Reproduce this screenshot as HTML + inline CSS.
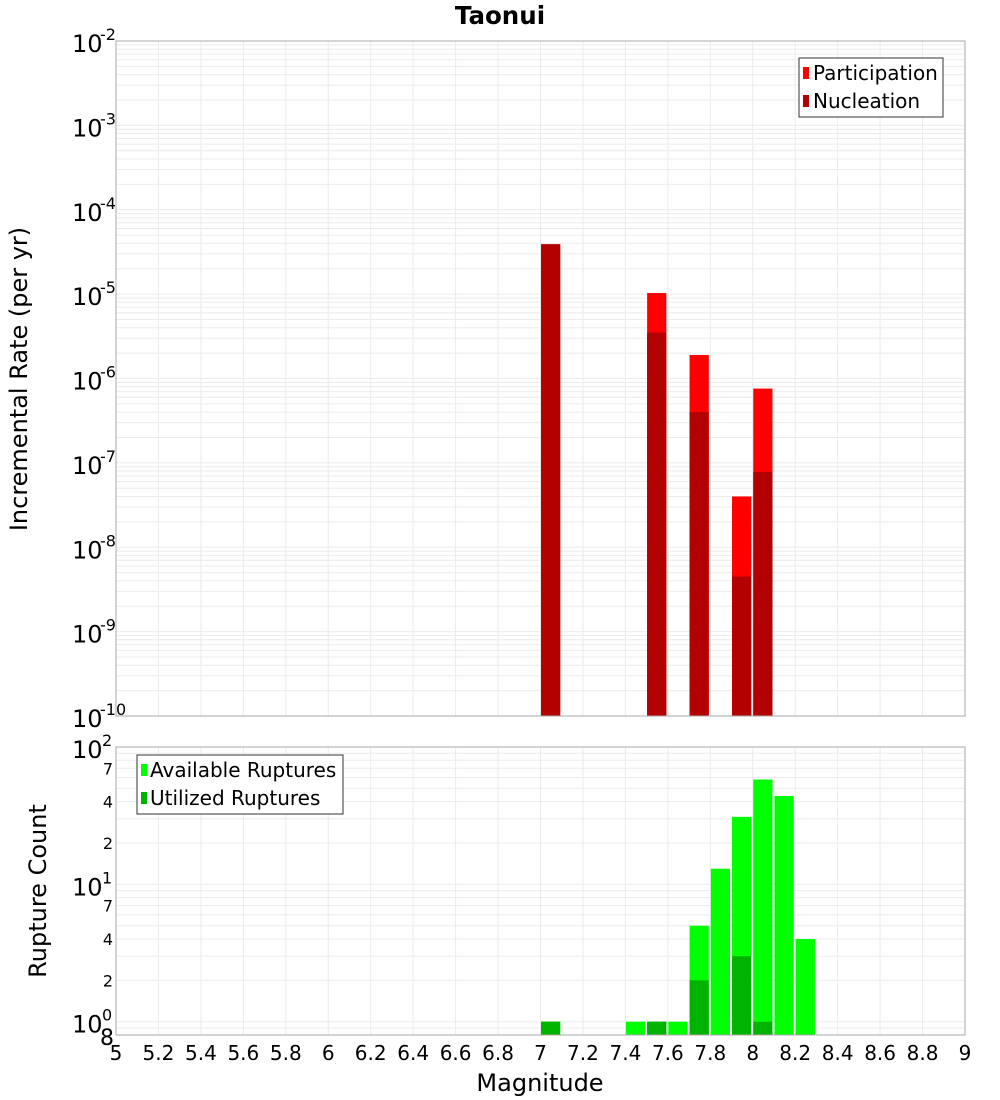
<!DOCTYPE html>
<html><head><meta charset="utf-8"><style>body{margin:0;background:#fff}svg{display:block;font-family:"DejaVu Sans","Liberation Sans",sans-serif}</style></head>
<body>
<svg id="c" width="1000" height="1100" xmlns="http://www.w3.org/2000/svg"></svg>
<script>
const magBins=[7.0,7.5,7.7,7.9,8.0];
const participation=[3.9e-5,1.03e-5,1.9e-6,4.0e-8,7.6e-7];
const nucleation=[3.9e-5,3.5e-6,4.0e-7,4.5e-9,7.8e-8];
const countBins=[7.0,7.4,7.5,7.6,7.7,7.8,7.9,8.0,8.1,8.2];
const available=[1,1,1,1,5,13,31,58,44,4];
const utilized=[1,0,1,0,2,0,3,1,0,0];
const xTicks=[5,5.2,5.4,5.6,5.8,6,6.2,6.4,6.6,6.8,7,7.2,7.4,7.6,7.8,8,8.2,8.4,8.6,8.8,9];
const topExps=[-2,-3,-4,-5,-6,-7,-8,-9,-10];

const S=document.getElementById('c');const NS='http://www.w3.org/2000/svg';
function el(t,a,txt){const e=document.createElementNS(NS,t);for(const k in a)e.setAttribute(k,a[k]);if(txt!==undefined)e.textContent=txt;S.appendChild(e);return e;}
const L=116,R=965;
const x=m=>L+(m-5)/4*(R-L);
const T1=41,B1=716;const y1=v=>T1+(-2-Math.log10(v))/8*(B1-T1);
const T2=747,B2=1035;const lmin=Math.log10(0.8),lmax=2;const y2=v=>T2+(lmax-Math.log10(v))/(lmax-lmin)*(B2-T2);

let e=el('text',{x:500,y:24,'text-anchor':'middle','font-size':24.5,'font-weight':'bold'},'Taonui');


el('rect',{x:L,y:T1,width:R-L,height:B1-T1,fill:'#fff',stroke:'none'});
el('rect',{x:L,y:T2,width:R-L,height:B2-T2,fill:'#fff',stroke:'none'});
xTicks.forEach(t=>{el('line',{x1:x(t),x2:x(t),y1:T1,y2:B1,stroke:'#ebebeb'});el('line',{x1:x(t),x2:x(t),y1:T2,y2:B2,stroke:'#ebebeb'});});
for(let d=-10;d<-2;d++)for(let k=1;k<10;k++){const v=k*Math.pow(10,d);el('line',{x1:L,x2:R,y1:y1(v),y2:y1(v),stroke:'#ebebeb'});}
for(let d=-1;d<2;d++)for(let k=1;k<10;k++){const v=k*Math.pow(10,d);if(v<0.8)continue;el('line',{x1:L,x2:R,y1:y2(v),y2:y2(v),stroke:'#ebebeb'});}

magBins.forEach((m,i)=>{
 e=el('rect',{x:x(m)+0.5,y:y1(participation[i]),width:x(m+0.1)-x(m)-2,height:B1-y1(participation[i]),fill:'#ff0000'});
 
 e=el('rect',{x:x(m)+0.5,y:y1(nucleation[i]),width:x(m+0.1)-x(m)-2,height:B1-y1(nucleation[i]),fill:'#b30000'});
 
});
countBins.forEach((m,i)=>{
 if(available[i]>0){e=el('rect',{x:x(m)+0.5,y:y2(available[i]),width:x(m+0.1)-x(m)-2,height:B2-y2(available[i]),fill:'#00ff00'});
 }
 if(utilized[i]>0){e=el('rect',{x:x(m)+0.5,y:y2(utilized[i]),width:x(m+0.1)-x(m)-2,height:B2-y2(utilized[i]),fill:'#00b300'});
 }
});
el('rect',{x:L,y:T1,width:R-L,height:B1-T1,fill:'none',stroke:'#aaa'});
el('rect',{x:L,y:T2,width:R-L,height:B2-T2,fill:'none',stroke:'#aaa'});

topExps.forEach(p=>{const yy=y1(Math.pow(10,p));
 e=el('text',{x:72,y:yy+11,'font-size':24},'10');
 el('text',{x:100,y:yy-1,'font-size':16},String(p));});
[[100,'2'],[10,'1'],[1,'0']].forEach(([v,p])=>{const yy=y2(v);
 e=el('text',{x:72,y:yy+11,'font-size':24},'10');
 el('text',{x:102,y:yy-1,'font-size':16},p);});
[[70,'7'],[40,'4'],[20,'2'],[7,'7'],[4,'4'],[2,'2'],[0.8,'8']].forEach(([v,s])=>{
 e=el('text',{x:v===0.8?107:108,y:y2(v)+(v===0.8?10:6),'font-size':v===0.8?22:16,'text-anchor':'middle'},s);
 });
xTicks.forEach(t=>{e=el('text',{x:x(t),y:1060,'font-size':20,'text-anchor':'middle'},String(t));
 });
e=el('text',{x:540,y:1091,'font-size':24,'text-anchor':'middle'},'Magnitude');
e=el('text',{x:0,y:0,'font-size':24,'text-anchor':'middle',transform:'translate(27,379) rotate(-90)'},'Incremental Rate (per yr)');
e=el('text',{x:0,y:0,'font-size':24,'text-anchor':'middle',transform:'translate(46,891) rotate(-90)'},'Rupture Count');

e=el('rect',{x:799,y:58,width:144,height:59,fill:'#fff',stroke:'#333'});
el('rect',{x:803,y:67,width:6,height:12,fill:'#ff0000'});el('text',{x:813,y:80,'font-size':20},'Participation');
el('rect',{x:803,y:95,width:6,height:12,fill:'#b30000'});el('text',{x:813,y:108,'font-size':20},'Nucleation');
e=el('rect',{x:137,y:755,width:206,height:59,fill:'#fff',stroke:'#333'});
el('rect',{x:141,y:764,width:6,height:12,fill:'#00ff00'});el('text',{x:150,y:777,'font-size':20},'Available Ruptures');
el('rect',{x:141,y:792,width:6,height:12,fill:'#00b300'});el('text',{x:150,y:805,'font-size':20},'Utilized Ruptures');
</script>
</body></html>
